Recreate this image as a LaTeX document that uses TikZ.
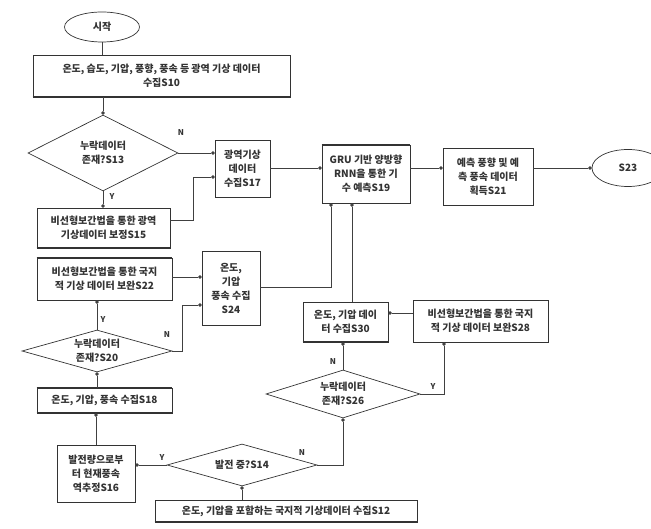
\documentclass[tikz,border=0pt]{standalone}
\usepackage{fontspec}
\setmainfont{Noto Sans CJK KR}
\usetikzlibrary{shapes.geometric,arrows.meta,calc}
\begin{document}
\begin{tikzpicture}[x=1pt,y=-1pt,
 every node/.style={font=\fontsize{10}{14}\selectfont\bfseries, text=black!80},
 box/.style={draw=black!80, line width=0.7pt, align=center, inner sep=1pt},
 dia/.style={draw=black!80, diamond, line width=0.7pt, inner sep=0pt},
 term/.style={draw=black!80, ellipse, line width=0.7pt},
 plain/.style={draw=black!75, line width=0.6pt},
 arr/.style={draw=black!75, line width=0.6pt, -{Circle[length=3.5pt]}},
 lbl/.style={font=\fontsize{8}{9}\selectfont\bfseries, inner sep=0pt},
 heavy/.style={draw=black!80, line width=1.8pt}]
\useasboundingbox (0,0) rectangle (651,529);

% nodes
\node[term, minimum width=75pt, minimum height=30pt] (start) at (102,27) {시작};
\node[box, minimum width=257pt, minimum height=42pt] (s10) at (161.5,76) {온도, 습도, 기압, 풍향, 풍속 등 광역 기상 데이터\\수집S10};
\node[dia, minimum width=150pt, minimum height=76pt, label={[align=center,name=s13t]center:누락데이터\\존재?S13}] (s13) at (103,153) {};
\node[box, minimum width=133pt, minimum height=40pt] (s15) at (103.5,228) {비선형보간법을 통한 광역\\기상데이터 보정S15};
\node[box, minimum width=55pt, minimum height=57pt] (s17) at (242.5,168.5) {광역기상\\데이터\\수집S17};
\node[box, minimum width=88pt, minimum height=58pt] (s19) at (366,174) {GRU 기반 양방향\\RNN을 통한 기\\수 예측S19};
\node[box, minimum width=90pt, minimum height=57pt] (s21) at (488,176.5) {예측 풍향 및 예\\측 풍속 데이터\\획득S21};
\node[term, minimum width=72pt, minimum height=37pt] (s23) at (628,168) {S23};
\node[box, minimum width=135pt, minimum height=42pt] (s22) at (104.5,279) {비선형보간법을 통한 국지\\적 기상 데이터 보완S22};
\node[box, minimum width=58pt, minimum height=74pt] (s24) at (231,288) {온도,\\기압\\풍속 수집\\S24};
\node[dia, minimum width=150pt, minimum height=42pt, label={[align=center,name=s20t]center:누락데이터\\존재?S20}] (s20) at (97,351) {};
\node[box, minimum width=135pt, minimum height=25pt] (s18) at (104.5,400.5) {온도, 기압, 풍속 수집S18};
\node[box, minimum width=78pt, minimum height=57pt] (s16) at (96,473.5) {발전량으로부\\터 현재풍속\\역추정S16};
\node[dia, minimum width=150pt, minimum height=42pt, label={[name=s14t]center:발전 중?S14}] (s14) at (242,465) {};
\node[box, minimum width=262pt, minimum height=22pt] (s12) at (286,511) {온도, 기압을 포함하는 국지적 기상데이터 수집S12};
\node[dia, minimum width=154pt, minimum height=48pt, label={[align=center,name=s26t]center:누락데이터\\존재?S26}] (s26) at (343,394) {};
\node[box, minimum width=85pt, minimum height=40pt] (s30) at (345.5,322) {온도, 기압 데이\\터 수집S30};
\node[box, minimum width=135pt, minimum height=42pt] (s28) at (480.5,321) {비선형보간법을 통한 국지\\적 기상 데이터 보완S28};

% heavy edges
\draw[heavy] (s10.south west) -- (s10.south east);
\draw[heavy] (s15.south west) -- (s15.south east);
\draw[heavy] (s22.north west) -- (s22.north east);
\draw[heavy] (s18.north west) -- (s18.north east);
\draw[heavy] (s18.south west) -- (s18.south east);
\draw[heavy] (s30.south west) -- (s30.south east);
\draw[heavy] (s12.south west) -- (s12.south east);
\draw[heavy] (s19.north west) -- (s19.north east);

% connectors
\draw[plain] (start.south) -- (start.south |- s10.north);
\draw[arr] (s10.south -| s13.north) -- (s13.north);
\draw[arr] (s13.east) -- (s13.east -| s17.west);
\node[lbl] (n13) at (181,133) {N};
\draw[arr] (s13.south) -- (s13.south |- s15.north);
\node[lbl] (y13) at (112,197) {Y};
\draw[arr] (s15.east |- 0,220) -- ++(23,0) |- (s17.west |- 0,177);
\draw[arr] (s17.east |- 0,168) -- (s19.west |- 0,168);
\draw[arr] (s19.east |- 0,168) -- (s21.west |- 0,168);
\draw[arr] (s21.east |- 0,168) -- (s23.west);
\draw[arr] (s22.east |- 0,277) -- (s24.west |- 0,277);
\draw[arr] (s20.east) -- ++(10,0) |- (s24.west |- 0,305);
\node[lbl] (n20) at (167,335) {N};
\draw[arr] (s20.north) -- (s20.north |- s22.south);
\node[lbl] (y20) at (103,320) {Y};
\draw[arr] (s18.north -| s20.south) -- (s20.south);
\draw[arr] (s16.north) -- (s16.north |- s18.south);
\draw[arr] (s14.west) -- (s14.west -| s16.east);
\node[lbl] (y14) at (162,458) {Y};
\draw[arr] (s12.north -| s14.south) -- (s14.south);
\draw[arr] (s14.east) -| (s26.south);
\node[lbl] (n14) at (302,453) {N};
\draw[arr] (s26.north) -- (s26.north |- s30.south);
\node[lbl] (n26) at (333,362) {N};
\draw[arr] (s26.east) -| (s28.south -| 444,0);
\node[lbl] (y26) at (433,387) {Y};
\draw[arr] (s28.west |- 0,313) -- (s30.east |- 0,313);
\draw[arr] (s24.east |- 0,287) -| (s19.south -| 331,0);
\draw[arr] (s30.north -| 352,0) -- (s19.south -| 352,0);
\end{tikzpicture}
\end{document}
